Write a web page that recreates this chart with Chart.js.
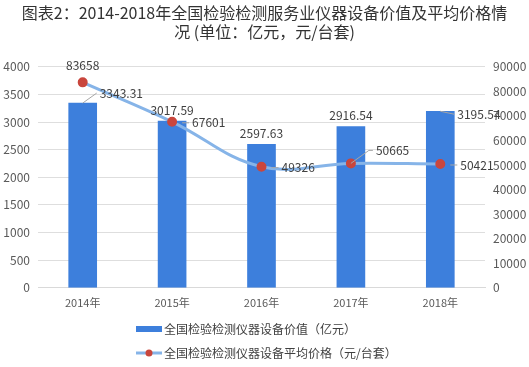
<!DOCTYPE html>
<html>
<head>
<meta charset="utf-8">
<script src="https://cdn.jsdelivr.net/npm/chart.js@4"></script>
<style>
  html, body { margin: 0; padding: 0; background: #fff; }
  #wrap { width: 529px; height: 367px; }
</style>
</head>
<body>
<div id="wrap"><canvas id="c"></canvas></div>
<script>
const years = ['2014年', '2015年', '2016年', '2017年', '2018年'];
const equipValue = [3343.31, 3017.59, 2597.63, 2916.54, 3195.54];
const avgPrice = [83658, 67601, 49326, 50665, 50421];
const valueLabel = '全国检验检测仪器设备价值（亿元）';
const priceLabel = '全国检验检测仪器设备平均价格（元/台套）';

const FONT = '"Noto Sans CJK SC", "Noto Sans", sans-serif';
const BAR_COLOR = '#3d7fdc';
const LINE_COLOR = '#86b4e8';
const POINT_COLOR = '#c9463d';

// label placement: 'top' = centered above, 'right' = to the right with leader
const barPlace = ['right', 'top', 'top', 'top', 'right'];
const linePlace = ['top', 'right', 'right', 'rightUp', 'right'];

const labelPlugin = {
  id: 'labels',
  afterDatasetsDraw(chart) {
    const ctx = chart.ctx;
    ctx.save();
    ctx.font = '12px ' + FONT;
    ctx.fillStyle = '#404040';
    ctx.strokeStyle = '#a6a6a6';
    ctx.lineWidth = 1;
    ctx.textBaseline = 'middle';

    const bars = chart.getDatasetMeta(0).data;
    bars.forEach((b, i) => {
      const txt = equipValue[i].toFixed(2);
      if (barPlace[i] === 'top') {
        ctx.textAlign = 'center';
        ctx.fillText(txt, b.x, b.y - 11);
      } else {
        ctx.textAlign = 'left';
        const lx = b.x + 14, ly = b.y - (i === 0 ? 10 : -3);
        ctx.beginPath();
        ctx.moveTo(b.x, b.y);
        ctx.lineTo(lx, ly);
        ctx.stroke();
        ctx.fillText(txt, lx + 3, ly);
      }
    });

    const pts = chart.getDatasetMeta(1).data;
    pts.forEach((p, i) => {
      const txt = String(avgPrice[i]);
      if (linePlace[i] === 'top') {
        ctx.textAlign = 'center';
        ctx.fillText(txt, p.x, p.y - 17);
      } else if (linePlace[i] === 'rightUp') {
        ctx.textAlign = 'left';
        ctx.beginPath();
        ctx.moveTo(p.x, p.y);
        ctx.lineTo(p.x + 18, p.y - 13);
        ctx.lineTo(p.x + 22, p.y - 13);
        ctx.stroke();
        ctx.fillText(txt, p.x + 25, p.y - 13);
      } else {
        ctx.textAlign = 'left';
        ctx.beginPath();
        ctx.moveTo(p.x + 10, p.y + 1);
        ctx.lineTo(p.x + 17, p.y + 1);
        ctx.stroke();
        ctx.fillText(txt, p.x + 20, p.y + 1);
      }
    });
    ctx.restore();
  }
};

const legendPlugin = {
  id: 'customLegend',
  afterDraw(chart) {
    const ctx = chart.ctx;
    ctx.save();
    ctx.font = '12px ' + FONT;
    ctx.fillStyle = '#404040';
    ctx.textAlign = 'left';
    ctx.textBaseline = 'middle';
    const x0 = 136, y1 = 329, y2 = 353;
    ctx.fillStyle = BAR_COLOR;
    ctx.fillRect(x0, y1 - 3, 26, 6);
    ctx.fillStyle = '#404040';
    ctx.fillText(valueLabel, x0 + 28, y1);

    ctx.strokeStyle = LINE_COLOR;
    ctx.lineWidth = 3;
    ctx.beginPath();
    ctx.moveTo(x0, y2);
    ctx.lineTo(x0 + 26, y2);
    ctx.stroke();
    ctx.fillStyle = POINT_COLOR;
    ctx.beginPath();
    ctx.arc(x0 + 13, y2, 3.5, 0, Math.PI * 2);
    ctx.fill();
    ctx.fillStyle = '#404040';
    ctx.fillText(priceLabel, x0 + 28, y2);
    ctx.restore();
  }
};

new Chart(document.getElementById('c'), {
  data: {
    labels: years,
    datasets: [
      {
        type: 'bar',
        label: valueLabel,
        data: equipValue,
        backgroundColor: BAR_COLOR,
        yAxisID: 'y',
        barThickness: 28,
        order: 2
      },
      {
        type: 'line',
        label: priceLabel,
        data: avgPrice,
        borderColor: LINE_COLOR,
        borderWidth: 3,
        tension: 0.4,
        pointBackgroundColor: POINT_COLOR,
        pointBorderColor: POINT_COLOR,
        pointRadius: 3.5,
        yAxisID: 'y1',
        order: 1
      }
    ]
  },
  options: {
    responsive: true,
    maintainAspectRatio: false,
    animation: false,
    layout: { padding: { top: 4, bottom: 50, left: 0, right: 0 } },
    plugins: {
      legend: { display: false },
      tooltip: { enabled: false },
      title: {
        display: true,
        text: ['图表2：2014-2018年全国检验检测服务业仪器设备价值及平均价格情', '况 (单位：亿元，元/台套)'],
        color: '#333',
        font: { family: FONT, size: 16, weight: 'normal', lineHeight: 1.15 },
        padding: { top: 0, bottom: 26 }
      }
    },
    scales: {
      x: {
        grid: { display: false, drawTicks: false },
        border: { color: '#d9d9d9' },
        ticks: { color: '#595959', font: { family: FONT, size: 11 }, padding: 8 }
      },
      y: {
        position: 'left',
        min: 0, max: 4000,
        ticks: { stepSize: 500, color: '#595959', font: { family: FONT, size: 12 }, padding: 8,
          callback: v => String(v) },
        grid: { color: '#dedede', drawTicks: false },
        border: { display: false },
        afterFit(s) { s.width = 38; }
      },
      y1: {
        position: 'right',
        min: 0, max: 90000,
        ticks: { stepSize: 10000, color: '#595959', font: { family: FONT, size: 12 }, padding: 8,
          callback: v => String(v) },
        grid: { display: false, drawTicks: false },
        border: { display: false },
        afterFit(s) { s.width = 44; }
      }
    }
  },
  plugins: [labelPlugin, legendPlugin]
});
</script>
</body>
</html>
